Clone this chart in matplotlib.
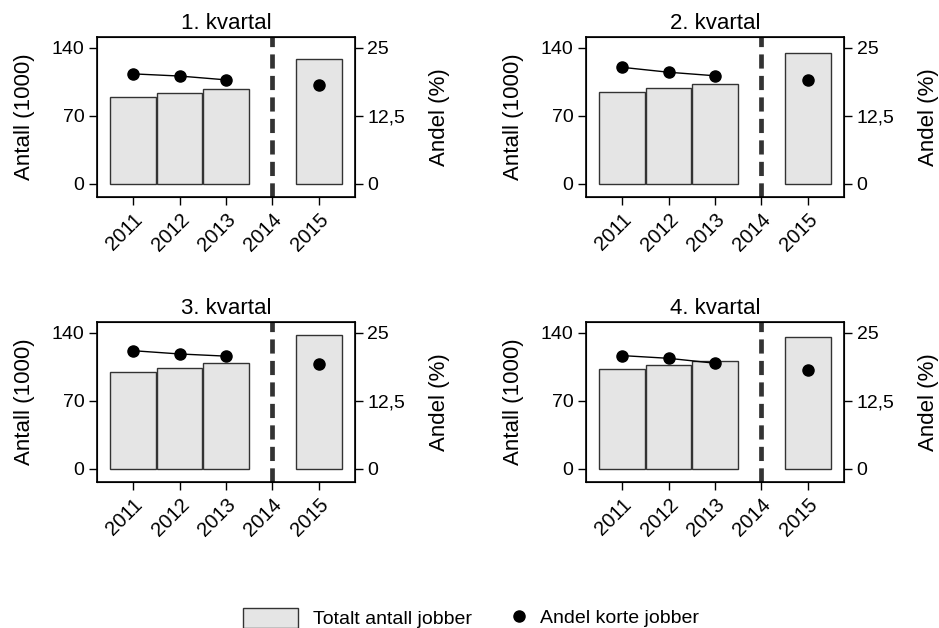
import numpy as np
import matplotlib.pyplot as plt
from matplotlib.patches import Patch
from matplotlib.lines import Line2D

plt.rcParams['font.family'] = ['Liberation Sans', 'DejaVu Sans']

years = [2011, 2012, 2013, 2015]
titles = ["1. kvartal", "2. kvartal", "3. kvartal", "4. kvartal"]
# totalt antall jobber (1000)
antall = [
    [89.6, 93.0, 97.5, 128.7],
    [94.7, 98.5, 102.6, 134.9],
    [99.6, 104.0, 109.2, 137.7],
    [102.4, 107.1, 111.2, 135.6],
]
# andel korte jobber (%)
andel = [
    [20.2, 19.8, 19.1, 18.1],
    [21.4, 20.5, 19.85, 19.1],
    [21.7, 21.1, 20.7, 19.2],
    [20.8, 20.3, 19.4, 18.2],
]
xticks = [2011, 2012, 2013, 2014, 2015]
break_year = 2014

W, H = 939, 628
fig = plt.figure(figsize=(W / 100, H / 100), dpi=100)

boxes = [(97, 37), (586, 37), (97, 322), (586, 322)]
aw, ah = 258, 160
ylo, yhi = -13.4, 151.0
tfs = 14     # tick labels
lfs = 16     # axis labels / titles

for i in range(4):
    x0, y0 = boxes[i]
    ax = fig.add_axes([x0 / W, 1 - (y0 + ah) / H, aw / W, ah / H])
    ax.bar(years, antall[i], width=0.98, color="#e5e5e5", edgecolor="#333333", linewidth=1)
    ax.axvline(break_year, color="#333333", linestyle=(0, (3.0, 1.55)), linewidth=3.4)
    ax.set_xlim(2010.22, 2015.78)
    ax.set_ylim(ylo, yhi)
    ax.set_yticks([0, 70, 140])
    ax.set_xticks(xticks)
    ax.set_xticklabels([str(y) for y in xticks], rotation=45, ha="right", va="top",
                       rotation_mode="anchor", fontsize=14.5)
    ax.tick_params(labelsize=tfs, length=6, width=1, direction="out", pad=3)
    ax.tick_params(axis="x", labelsize=14.5)
    ax.set_ylabel("Antall (1000)", fontsize=lfs, labelpad=12)
    ax.set_title(titles[i], fontsize=lfs, pad=6)
    for s in ax.spines.values():
        s.set_linewidth(1.2)

    ax2 = ax.twinx()
    ax2.plot(years[:3], andel[i][:3], color="black", linewidth=1, marker="o", markersize=8)
    ax2.plot(years[3:], andel[i][3:], color="black", linestyle="none", marker="o", markersize=8)
    ax2.set_ylim(ylo * 25 / 140, yhi * 25 / 140)
    ax2.set_yticks([0, 12.5, 25])
    ax2.set_yticklabels(["0", "12,5", "25"])
    ax2.tick_params(labelsize=tfs, length=6, width=1, direction="out", pad=3)
    ax2.set_ylabel("Andel (%)", fontsize=lfs, labelpad=17)
    ax2.yaxis.label.set_rotation(90)

leg1 = fig.legend([Patch(facecolor="#e5e5e5", edgecolor="#333333", linewidth=1)],
                  ["Totalt antall jobber"], loc="center left",
                  bbox_to_anchor=(243 / W, 1 - 618 / H), frameon=False, fontsize=14,
                  handlelength=2.83, handleheight=1.24, handletextpad=0.77,
                  borderpad=0, borderaxespad=0)
leg2 = fig.legend([Line2D([], [], color="black", linestyle="none", marker="o", markersize=8)],
                  ["Andel korte jobber"], loc="center left",
                  bbox_to_anchor=(509 / W, 1 - 618 / H), frameon=False, fontsize=14,
                  handlelength=1.0, handletextpad=0.57, borderpad=0, borderaxespad=0)

fig.savefig("out.png", dpi=100)
